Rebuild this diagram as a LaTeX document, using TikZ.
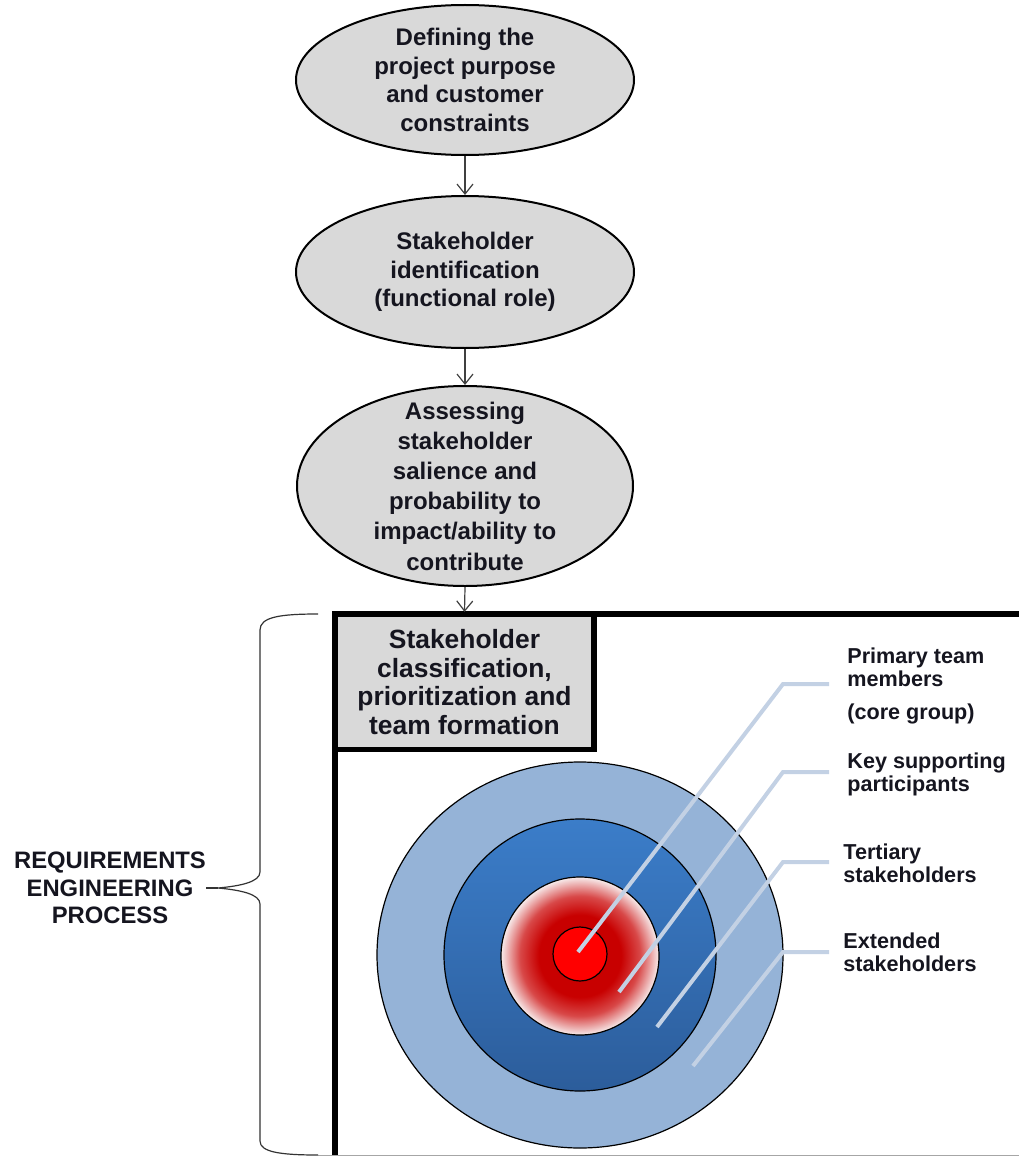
\documentclass[tikz,border=0pt]{standalone}
\usepackage{fontspec}
\setmainfont{Liberation Sans}
\usetikzlibrary{shapes.geometric,arrows.meta}
\definecolor{ellfill}{HTML}{D9D9D9}
\definecolor{outerblue}{HTML}{95B3D7}
\definecolor{blueA}{HTML}{3B7DC9}
\definecolor{blueB}{HTML}{2C5D9B}
\definecolor{redcore}{HTML}{C80000}
\definecolor{redmid}{HTML}{D84848}
\definecolor{pinkedge}{HTML}{F7ECEC}
\definecolor{calloutc}{HTML}{C3D1E4}
\definecolor{txt}{HTML}{15151F}
\pgfdeclareradialshading{ringred}{\pgfpoint{0bp}{0bp}}{color(0bp)=(redcore); color(13bp)=(redcore); color(19bp)=(redmid); color(25bp)=(pinkedge); color(50bp)=(pinkedge)}
\tikzset{
  ell/.style={ellipse, draw=black, line width=1pt, fill=ellfill, inner sep=0pt},
  elltext/.style={align=center, inner sep=0pt, text=txt, font=\bfseries\fontsize{12}{14.3}\selectfont},
  arr/.style={-{Straight Barb[length=5pt,width=8pt]}, line width=0.6pt, draw=black!75},
  stagebox/.style={rectangle, draw=black, line width=2.6pt, fill=ellfill, align=center, inner sep=0pt,
    text=txt, font=\bfseries\fontsize{13.2}{14.3}\selectfont},
  lbl/.style={anchor=west, align=left, inner sep=0pt, text=txt, font=\bfseries\fontsize{10.8}{11.5}\selectfont},
  callout/.style={draw=calloutc, line width=2pt},
  ring/.style={draw=black, line width=0.6pt},
}
\begin{document}
\begin{tikzpicture}[x=0.5pt,y=-0.5pt]
\useasboundingbox (0,0) rectangle (1019,1156);

% flow ellipses
\node[ell, minimum width=169pt, minimum height=75pt] (e1) at (465,80) {};
\node[elltext] (t1) at (e1) {Defining the\\project purpose\\and customer\\constraints};
\node[ell, minimum width=169pt, minimum height=76pt] (e2) at (465,272) {};
\node[elltext] (t2) at (e2) {Stakeholder\\identification\\(functional role)};
\node[ell, minimum width=168pt, minimum height=100pt] (e3) at (465,486) {};
\node[elltext, font=\bfseries\fontsize{12}{15.1}\selectfont] (t3) at (e3)
  {Assessing\\stakeholder\\salience and\\probability to\\impact/ability to\\contribute};

% frame
\draw[line width=3pt] (335,1156) -- (335,614) -- (1019,614);
\draw[black!35, line width=0.8pt] (318,1155.5) -- (1019,1155.5);

% classification box
\node[stagebox, minimum width=129.5pt, minimum height=67.5pt] (box) at (464.5,682)
  {Stakeholder\\classification,\\prioritization and\\team formation};

\draw[arr] (e1.south) -- (e2.north);
\draw[arr] (e2.south) -- (e3.north);
\draw[arr] (e3.south) -- (box.north);

% concentric rings
\fill[outerblue] (580,955) ellipse [x radius=203, y radius=193];
\draw[ring] (580,955) ellipse [x radius=203, y radius=193];
\shade[top color=blueA, bottom color=blueB] (580,955) circle [radius=136];
\draw[ring] (580,955) circle [radius=136];
\shade[shading=ringred] (580,956) circle [radius=79];
\draw[ring] (580,956) circle [radius=79];
\filldraw[fill=red, ring] (580,954) circle [radius=27];

% labels
\node[lbl] (l1) at (847,686) {Primary team\\members\\[5pt](core group)};
\node[lbl] (l2) at (847,774) {Key supporting\\participants};
\node[lbl] (l3) at (843,863) {Tertiary\\stakeholders};
\node[lbl] (l4) at (843,952) {Extended\\stakeholders};

\coordinate (s1) at (578,952);  \coordinate (k1) at (783,684);
\coordinate (s2) at (619,992);  \coordinate (k2) at (783,772);
\coordinate (s3) at (657,1027); \coordinate (k3) at (783,862);
\coordinate (s4) at (693,1066); \coordinate (k4) at (783,952);
\coordinate (h1) at ([xshift=-9pt]l1.west);
\coordinate (h2) at ([xshift=-9pt]l2.west);
\coordinate (h3) at ([xshift=-7pt]l3.west);
\coordinate (h4) at ([xshift=-7pt]l4.west);
\draw[callout] (s1) -- (k1) -- (k1 -| h1);
\draw[callout] (s2) -- (k2) -- (k2 -| h2);
\draw[callout] (s3) -- (k3) -- (k3 -| h3);
\draw[callout] (s4) -- (k4) -- (k4 -| h4);

% brace and process label
\node[align=center, inner sep=0pt, text=txt, font=\bfseries\fontsize{11.9}{13.8}\selectfont] (req) at (110,888)
  {REQUIREMENTS\\ENGINEERING\\PROCESS};
\coordinate (cusp) at (218,888);
\draw[black!80, line width=0.6pt] (318,614) .. controls (280,614) and (260,617) .. (260,630)
  -- (260,872) .. controls (260,882) and (240,886) .. (cusp)
  .. controls (240,890) and (260,894) .. (260,904)
  -- (260,1141) .. controls (260,1152) and (280,1155) .. (318,1155);
\draw[black!80, line width=0.6pt] (req.east) -- (cusp);
\end{tikzpicture}
\end{document}
